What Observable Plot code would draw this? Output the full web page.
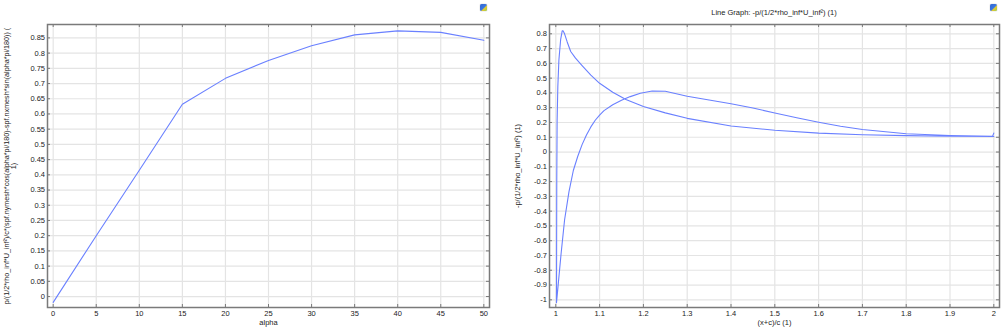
<!DOCTYPE html>
<html><head><meta charset="utf-8">
<script src="https://cdn.jsdelivr.net/npm/d3@7"></script>
<script src="https://cdn.jsdelivr.net/npm/@observablehq/plot@0.6"></script>
<style>
body{margin:0;background:#fff;width:1002px;height:330px;position:relative;overflow:hidden;font-family:"Liberation Sans",Arial,sans-serif;}
.panel{position:absolute;top:0;}
.title{position:absolute;top:8px;font-size:7.5px;line-height:10px;color:#222;white-space:nowrap;transform:translateX(-50%)}
.icon{position:absolute;top:4px;width:7px;height:7px;border-radius:1.5px;background:linear-gradient(135deg,#2f64d0 0%,#3b78e0 55%,#e8c832 60%,#9fd04a 100%);box-shadow:0 0 1px #777}
</style></head><body>
<div id="left" class="panel" style="left:0"></div>
<div id="right" class="panel" style="left:500px"></div>
<div class="title" style="left:774px">Line Graph: -p/(1/2*rho_inf*U_inf²) (1)</div>
<div class="icon" style="left:480px"></div>
<div class="icon" style="left:990px"></div>
<script>
// ---- Left panel: lift coefficient vs angle of attack ----
const alphaDeg = [0, 5, 10, 15, 20, 25, 30, 35, 40, 45, 50];
const liftCoef = [-0.019, 0.2, 0.415, 0.632, 0.717, 0.776, 0.824, 0.86, 0.873, 0.868, 0.842];
const leftXTicks = [0, 5, 10, 15, 20, 25, 30, 35, 40, 45, 50];
const leftYTicks = [0, 0.05, 0.1, 0.15, 0.2, 0.25, 0.3, 0.35, 0.4, 0.45, 0.5, 0.55, 0.6, 0.65, 0.7, 0.75, 0.8, 0.85];
const leftXLabel = "alpha";
const leftYLabel = "p/(1/2*rho_inf*U_inf²)/c*(spf.nymesh*cos(alpha*pi/180)-spf.nxmesh*sin(alpha*pi/180)) (\n1)";

// ---- Right panel: pressure coefficient along the surface (one closed path) ----
const surfX = [2.0, 1.9, 1.8, 1.7, 1.6, 1.5, 1.4, 1.3, 1.25, 1.2, 1.16, 1.13, 1.1, 1.08, 1.06, 1.045, 1.034, 1.026, 1.02, 1.0165, 1.0146, 1.011, 1.007, 1.0046, 1.003, 1.0022, 1.0016,
               1.006, 1.012, 1.02, 1.03, 1.04, 1.05, 1.06, 1.07, 1.08, 1.09, 1.1, 1.11, 1.13, 1.15, 1.17, 1.193, 1.22, 1.25, 1.3, 1.35, 1.4, 1.45, 1.5, 1.55, 1.6, 1.65, 1.7, 1.8, 1.9, 1.997, 2.0];
const surfCp = [0.105, 0.107, 0.111, 0.117, 0.128, 0.147, 0.176, 0.228, 0.265, 0.308, 0.355, 0.405, 0.465, 0.52, 0.585, 0.635, 0.68, 0.745, 0.8, 0.82, 0.82, 0.76, 0.62, 0.44, 0.21, -0.2, -1.02,
               -0.88, -0.69, -0.46, -0.27, -0.125, -0.03, 0.05, 0.115, 0.17, 0.215, 0.25, 0.28, 0.32, 0.35, 0.375, 0.398, 0.413, 0.411, 0.378, 0.352, 0.327, 0.298, 0.264, 0.232, 0.202, 0.175, 0.152, 0.124, 0.112, 0.106, 0.128];
const rightXTicks = [1, 1.1, 1.2, 1.3, 1.4, 1.5, 1.6, 1.7, 1.8, 1.9, 2];
const rightYTicks = [-1, -0.9, -0.8, -0.7, -0.6, -0.5, -0.4, -0.3, -0.2, -0.1, 0, 0.1, 0.2, 0.3, 0.4, 0.5, 0.6, 0.7, 0.8];
const rightXLabel = "(x+c)/c (1)";
const rightYLabel = "-p/(1/2*rho_inf*U_inf²) (1)";

const fmt = d => String(+d.toFixed(2));
const lineColor = "#6a80ff";
const frameColor = "#7a7a7a";
const gridColor = "#e4e4e4";

function panel(o) {
  const data = o.xs.map((x, i) => ({x, y: o.ys[i]}));
  const pw = o.width - o.marginLeft - o.marginRight;
  const ph = o.height - o.marginTop - o.marginBottom;
  const tl = 3;
  return Plot.plot({
    width: o.width, height: o.height,
    marginLeft: o.marginLeft, marginRight: o.marginRight,
    marginTop: o.marginTop, marginBottom: o.marginBottom,
    style: {fontFamily: "Liberation Sans, Arial, sans-serif", fontSize: "7.5px", color: "#222", background: "#fff", overflow: "visible"},
    x: {domain: o.xDomain},
    y: {domain: o.yDomain},
    marks: [
      Plot.gridX(o.xTicks, {stroke: gridColor, strokeOpacity: 1, strokeWidth: 1.2}),
      Plot.gridY(o.yTicks, {stroke: gridColor, strokeOpacity: 1, strokeWidth: 1.2}),
      Plot.line(data, {x: "x", y: "y", stroke: lineColor, strokeWidth: 1.1}),
      Plot.axisX(o.xTicks, {tickSize: 0, tickPadding: 3.5, tickFormat: fmt, label: null, fill: "#222"}),
      Plot.axisY(o.yTicks, {tickSize: 0, tickPadding: 2.5, tickFormat: fmt, label: null, fill: "#222"}),
      Plot.tickX(o.xTicks, {x: d => d, insetBottom: ph - tl, stroke: frameColor}),
      Plot.tickX(o.xTicks, {x: d => d, insetTop: ph - tl, stroke: frameColor}),
      Plot.tickY(o.yTicks, {y: d => d, insetLeft: pw - tl, stroke: frameColor}),
      Plot.tickY(o.yTicks, {y: d => d, insetRight: pw - tl, stroke: frameColor}),
      Plot.frame({stroke: frameColor, strokeWidth: 1.5}),
      Plot.text([o.xLabel], {frameAnchor: "bottom", dy: o.xLabelDy, textAnchor: "middle", fill: "#222"}),
      Plot.text([o.yLabel], {frameAnchor: "left", rotate: -90, dx: o.yLabelDx, textAnchor: "middle", lineAnchor: "middle", lineHeight: 0.95, fontSize: o.yLabelSize, fill: "#222"})
    ]
  });
}

document.getElementById("left").append(panel({
  width: 500, height: 330, marginLeft: 47, marginRight: 11, marginTop: 24, marginBottom: 23,
  xs: alphaDeg, ys: liftCoef,
  xDomain: [-0.66, 50.66], yDomain: [-0.036, 0.894],
  xTicks: leftXTicks, yTicks: leftYTicks,
  xLabel: leftXLabel, yLabel: leftYLabel, xLabelDy: 17, yLabelDx: -37.5, yLabelSize: 7.2
}));

document.getElementById("right").append(panel({
  width: 502, height: 330, marginLeft: 49, marginRight: 3, marginTop: 24, marginBottom: 23,
  xs: surfX, ys: surfCp,
  xDomain: [0.9856, 2.013], yDomain: [-1.052, 0.863],
  xTicks: rightXTicks, yTicks: rightYTicks,
  xLabel: rightXLabel, yLabel: rightYLabel, xLabelDy: 17.5, yLabelDx: -32, yLabelSize: 7.5
}));
</script>
</body></html>
